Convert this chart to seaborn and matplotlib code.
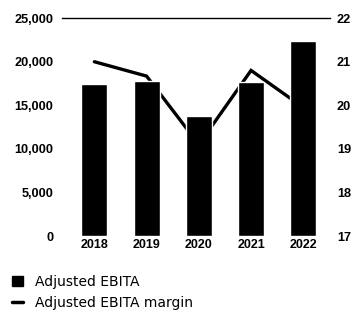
import numpy as np
import pandas as pd
import matplotlib
matplotlib.use("Agg")
import matplotlib.pyplot as plt
import seaborn as sns
from matplotlib.patches import Patch
from matplotlib.lines import Line2D

years = ["2018", "2019", "2020", "2021", "2022"]
ebita = [17400, 17800, 13800, 17700, 22400]
margin = [21.0, 20.67, 19.1, 20.8, 19.95]
left_ticks = [0, 5000, 10000, 15000, 20000, 25000]
right_ticks = [17, 18, 19, 20, 21, 22]

sns.set_style("white")
plt.rcParams["font.family"] = ["Liberation Sans", "DejaVu Sans"]
plt.rcParams["text.color"] = "black"
plt.rcParams["xtick.color"] = "black"
plt.rcParams["ytick.color"] = "black"
plt.rcParams["axes.labelcolor"] = "black"

fig = plt.figure(figsize=(3.54, 3.13), dpi=100)
ax = fig.add_axes([0.175, 0.246, 0.757, 0.696])
ax2 = ax.twinx()

df = pd.DataFrame({"year": years, "ebita": ebita})
sns.barplot(data=df, x="year", y="ebita", color="black", width=0.5,
            saturation=1, ax=ax, zorder=3)
sns.lineplot(x=np.arange(len(years)), y=margin, color="black", lw=2.4,
             ax=ax2, solid_joinstyle="miter")

ax.set_zorder(2)
ax.patch.set_visible(False)
ax2.set_zorder(1)

ax.set_xlim(-0.62, 4.51)
ax.set_ylim(0, 25000)
ax2.set_ylim(17, 22)
ax.set_yticks(left_ticks)
ax.set_yticklabels([f"{v:,}" for v in left_ticks], fontsize=9.2, fontweight="bold", color="black")
ax2.set_yticks(right_ticks)
ax2.set_yticklabels([str(v) for v in right_ticks], fontsize=9.2, fontweight="bold", color="black")
ax.set_xticks(range(len(years)))
ax.set_xticklabels(years, fontsize=9, fontweight="bold", color="black")
ax.set_xlabel("")
ax.set_ylabel("")
ax2.set_ylabel("")
for a in (ax, ax2):
    for s in ["left", "right", "bottom"]:
        a.spines[s].set_visible(False)
    a.tick_params(length=0)
ax.spines["top"].set_visible(True)
ax.spines["top"].set_color("black")
ax.spines["top"].set_linewidth(1.0)
ax2.spines["top"].set_visible(False)
ax.tick_params(axis="y", pad=6)
ax2.tick_params(axis="y", pad=5)
ax.tick_params(axis="x", pad=2)

handles = [Patch(facecolor="black", edgecolor="black"),
           Line2D([0], [0], color="black", lw=2.5)]
leg = fig.legend(handles, ["Adjusted EBITA", "Adjusted EBITA margin"],
                 loc="upper left", bbox_to_anchor=(0.035, 0.122), frameon=False,
                 prop={"family": "DejaVu Sans", "size": 10},
                 handlelength=0.75, handleheight=0.75, handletextpad=0.9,
                 labelspacing=0.55, borderaxespad=0, borderpad=0)
for t in leg.get_texts():
    t.set_color("black")

fig.savefig("out.png", dpi=100)
